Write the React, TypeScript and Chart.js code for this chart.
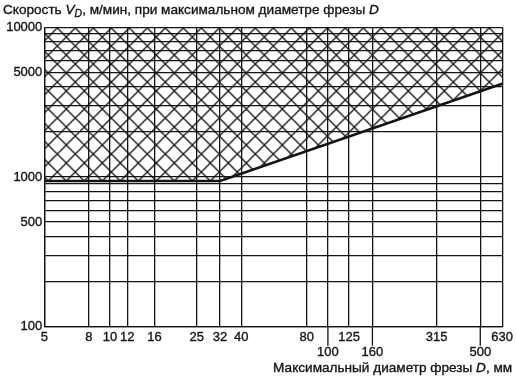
import React, { useEffect, useRef } from 'react';
import { Chart, registerables } from 'chart.js';

Chart.register(...registerables);

// ---- data ----
const xGridValues = [5, 8, 10, 12, 16, 25, 32, 40, 80, 100, 125, 160, 315, 500, 630];
const xUpperLabels = [5, 8, 10, 12, 16, 25, 32, 40, 80, 125, 315, 630];
const xLowerLabels = [100, 160, 500];
const yGridValues = [
  100, 200, 300, 400, 500, 600, 700, 800, 900, 1000,
  2000, 3000, 4000, 5000, 6000, 7000, 8000, 9000, 10000,
];
const yLabels = [100, 500, 1000, 5000, 10000];
const boundaryD = [5, 32, 630];
const boundaryV = [940, 940, 4200];

const INK = '#141414';
const FONT = 'Liberation Sans';

type Run = { text: string; italic?: boolean; size?: number; dy?: number };

function runFont(r: Run) {
  return `${r.italic ? 'italic ' : ''}${r.size ?? 13.6}px "${FONT}"`;
}

function drawRuns(ctx: CanvasRenderingContext2D, runs: Run[], x: number, y: number, align: 'left' | 'right') {
  let total = 0;
  runs.forEach((r) => {
    ctx.font = runFont(r);
    total += ctx.measureText(r.text).width;
  });
  let cx = align === 'right' ? x - total : x;
  ctx.textAlign = 'left';
  ctx.textBaseline = 'alphabetic';
  ctx.lineWidth = 0.35;
  ctx.strokeStyle = INK;
  runs.forEach((r) => {
    ctx.font = runFont(r);
    ctx.fillText(r.text, cx, y + (r.dy ?? 0));
    ctx.strokeText(r.text, cx, y + (r.dy ?? 0));
    cx += ctx.measureText(r.text).width;
  });
}

function makeHatch(): CanvasPattern | string {
  const s = 18;
  const c = document.createElement('canvas');
  c.width = s;
  c.height = s;
  const g = c.getContext('2d');
  if (!g) return 'transparent';
  g.strokeStyle = INK;
  g.lineWidth = 1.3;
  for (let k = -1; k <= 1; k++) {
    g.beginPath();
    g.moveTo(-2, -2 + k * s);
    g.lineTo(s + 2, s + 2 + k * s);
    g.stroke();
    g.beginPath();
    g.moveTo(-2, s + 2 + k * s);
    g.lineTo(s + 2, -2 + k * s);
    g.stroke();
  }
  const p = g.createPattern(c, 'repeat');
  if (!p) return 'transparent';
  try {
    p.setTransform(new DOMMatrix([1, 0, 0, 1, 12.3, 1]));
  } catch (e) {
    /* ignore */
  }
  return p;
}

const annotatePlugin = {
  id: 'annotate',
  afterDraw(chart: any) {
    const ctx: CanvasRenderingContext2D = chart.ctx;
    const xs = chart.scales.x;
    ctx.save();
    ctx.strokeStyle = INK;
    ctx.lineWidth = 1.3;
    xLowerLabels.forEach((v) => {
      const px = xs.getPixelForValue(v);
      ctx.beginPath();
      ctx.moveTo(px, xs.top);
      ctx.lineTo(px, xs.top + 19);
      ctx.stroke();
    });
    ctx.fillStyle = INK;
    drawRuns(
      ctx,
      [
        { text: 'Скорость ' },
        { text: 'V', italic: true },
        { text: 'D', italic: true, size: 10.5, dy: 3 },
        { text: ', м/мин, при максимальном диаметре фрезы ' },
        { text: 'D', italic: true },
      ],
      3,
      14,
      'left'
    );
    drawRuns(
      ctx,
      [
        { text: 'Максимальный диаметр фрезы ' },
        { text: 'D', italic: true },
        { text: ', мм' },
      ],
      chart.chartArea.right + 10,
      372,
      'right'
    );
    ctx.restore();
  },
};

export default function App() {
  const ref = useRef<HTMLCanvasElement | null>(null);

  useEffect(() => {
    if (!ref.current) return;
    const hatch = makeHatch();
    const points = boundaryD.map((d, i) => ({ x: d, y: boundaryV[i] }));
    const tickFont = { family: FONT, size: 13, lineHeight: 1.15 };
    const chart = new Chart(ref.current, {
      type: 'line',
      data: {
        datasets: [
          {
            data: points,
            borderColor: INK,
            borderWidth: 2.6,
            backgroundColor: hatch as any,
            fill: 'end',
            pointRadius: 0,
            tension: 0,
          },
        ],
      },
      plugins: [annotatePlugin],
      options: {
        animation: false,
        responsive: false,
        devicePixelRatio: 1,
        layout: { padding: { top: 27.3, right: 13.3, left: 0, bottom: 0 } },
        plugins: { legend: { display: false }, tooltip: { enabled: false } },
        scales: {
          x: {
            type: 'logarithmic',
            min: 5,
            max: 630,
            afterBuildTicks: (scale: any) => {
              scale.ticks = xGridValues.map((v) => ({ value: v }));
            },
            afterFit: (scale: any) => {
              scale.height = 52.3;
            },
            grid: { color: INK, lineWidth: 1.3, drawTicks: false },
            border: { display: true, color: INK, width: 1.3 },
            ticks: {
              autoSkip: false,
              maxRotation: 0,
              minRotation: 0,
              padding: 3,
              color: INK,
              textStrokeColor: INK,
              textStrokeWidth: 0.35,
              font: tickFont,
              callback: (value: any) => {
                const v = Number(value);
                if (xUpperLabels.includes(v)) return String(v);
                if (xLowerLabels.includes(v)) return ['', String(v)];
                return '';
              },
            },
          },
          y: {
            type: 'logarithmic',
            min: 100,
            max: 10000,
            afterBuildTicks: (scale: any) => {
              scale.ticks = yGridValues.map((v) => ({ value: v }));
            },
            afterFit: (scale: any) => {
              scale.width = 44.3;
            },
            grid: { color: INK, lineWidth: 1.3, drawTicks: false },
            border: { display: true, color: INK, width: 1.3 },
            ticks: {
              autoSkip: false,
              padding: 2,
              color: INK,
              textStrokeColor: INK,
              textStrokeWidth: 0.35,
              font: tickFont,
              callback: (value: any) => {
                const v = Number(value);
                return yLabels.includes(v) ? String(v) : '';
              },
            },
          },
        },
      },
    });
    return () => chart.destroy();
  }, []);

  return (
    <div style={{ position: 'absolute', left: 0, top: 0, width: 516, height: 379 }}>
      <canvas ref={ref} width={516} height={379} style={{ display: 'block', width: 516, height: 379 }} />
    </div>
  );
}
